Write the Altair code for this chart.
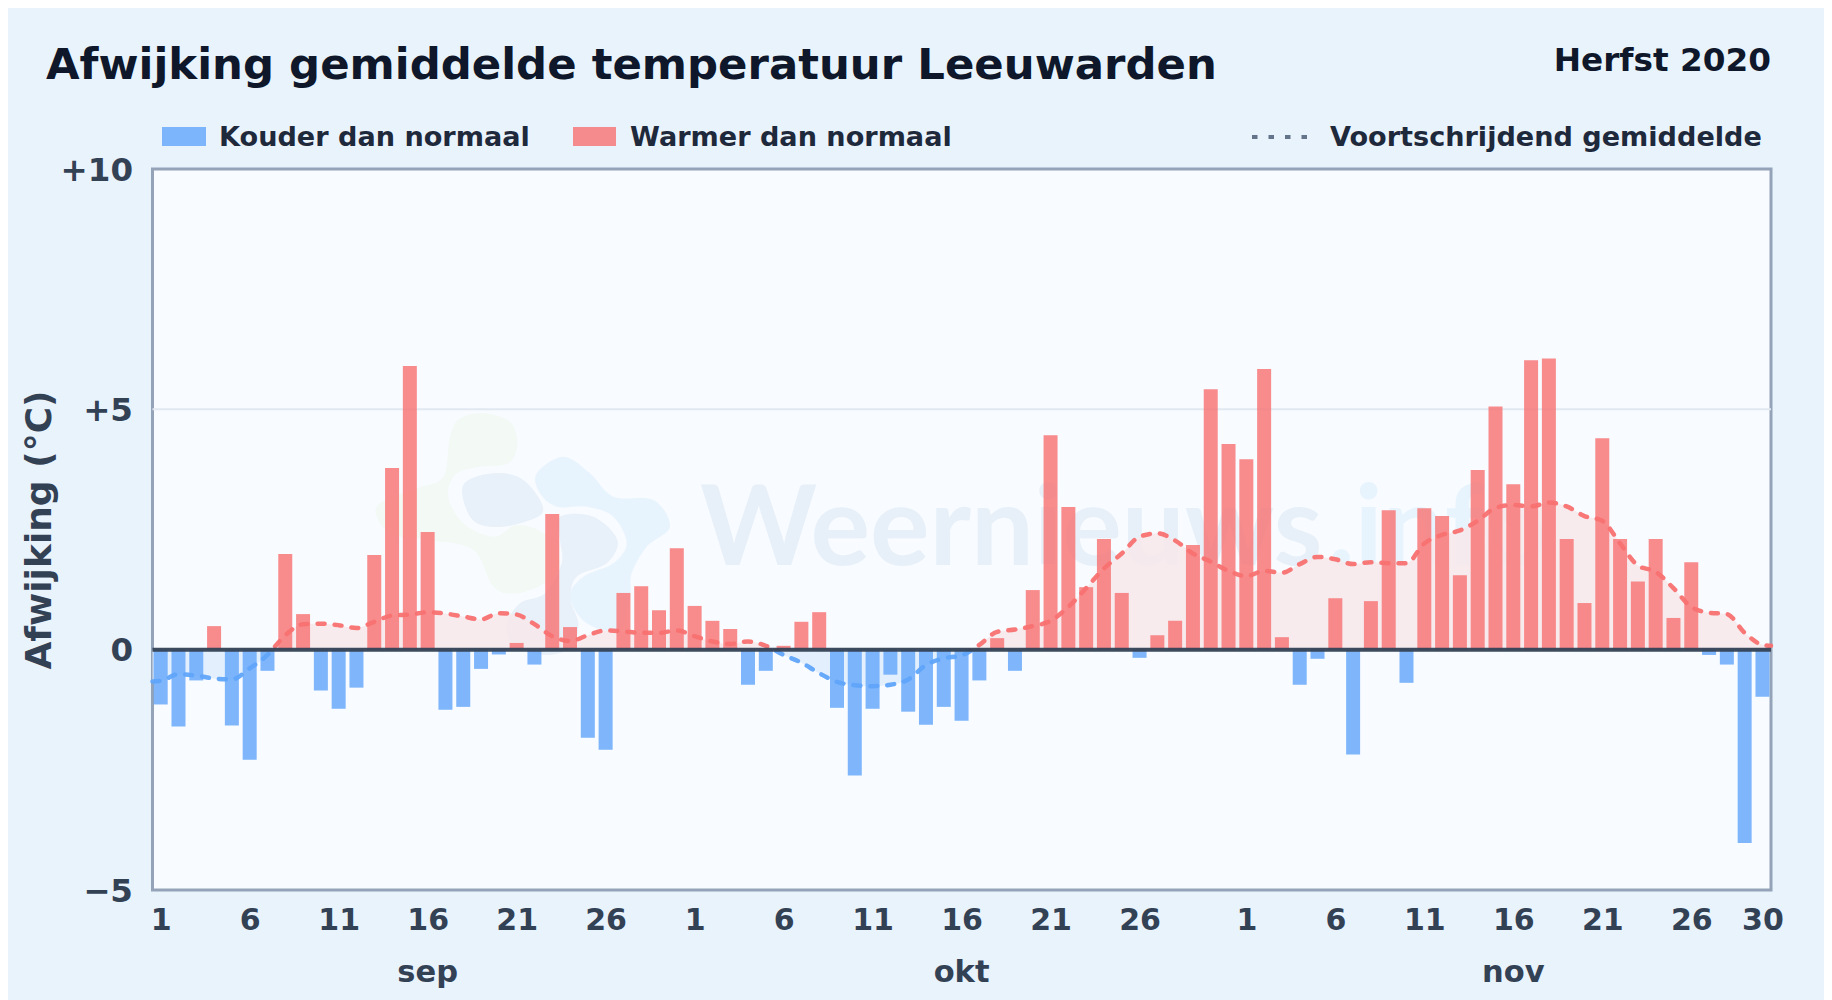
import altair as alt
import pandas as pd

# ---------- data ----------
deviation = [
    -1.14, -1.60, -0.64, 0.49, -1.58, -2.29, -0.44, 1.99, 0.74, -0.85,
    -1.23, -0.79, 1.97, 3.78, 5.90, 2.45, -1.25, -1.19, -0.40, -0.10,
    0.14, -0.31, 2.82, 0.47, -1.83, -2.08, 1.18, 1.32, 0.82, 2.11,
    0.91, 0.60, 0.43, -0.73, -0.44, 0.08, 0.58, 0.78, -1.21, -2.62,
    -1.23, -0.52, -1.29, -1.56, -1.19, -1.48, -0.64, 0.24, -0.44, 1.24,
    4.46, 2.97, 1.30, 2.30, 1.18, -0.17, 0.30, 0.60, 2.18, 5.42, 4.28,
    3.96, 5.84, 0.26, -0.73, -0.19, 1.07, -2.18, 1.01, 2.90, -0.69,
    2.94, 2.78, 1.55, 3.74, 5.06, 3.44, 6.02, 6.06, 2.30, 0.97,
    4.40, 2.30, 1.42, 2.30, 0.66, 1.82, -0.11, -0.31, -4.02, -0.98,
]
running_mean = [
    -0.65, -0.51, -0.54, -0.60, -0.62, -0.39, -0.11, 0.30, 0.53, 0.54,
    0.51, 0.45, 0.58, 0.71, 0.73, 0.78, 0.75, 0.69, 0.63, 0.76,
    0.73, 0.53, 0.28, 0.18, 0.30, 0.40, 0.38, 0.35, 0.35, 0.40,
    0.28, 0.17, 0.12, 0.17, 0.08, -0.11, -0.27, -0.49, -0.67, -0.74,
    -0.76, -0.73, -0.62, -0.32, -0.18, -0.12, 0.10, 0.37, 0.42, 0.49,
    0.60, 0.89, 1.28, 1.69, 2.00, 2.35, 2.42, 2.27, 2.00, 1.83, 1.64,
    1.53, 1.64, 1.60, 1.78, 1.93, 1.88, 1.78, 1.82, 1.80, 1.80,
    2.21, 2.39, 2.48, 2.68, 2.95, 3.01, 2.98, 3.06, 2.98, 2.78,
    2.68, 2.21, 1.75, 1.62, 1.28, 0.89, 0.77, 0.74, 0.35, 0.10,
]
mean_start = -0.66
mean_end = 0.08
tick_index = [0, 5, 10, 15, 20, 25, 30, 35, 40, 45, 50, 55, 61, 66, 71, 76, 81, 86, 90]
tick_labels = ["1", "6", "11", "16", "21", "26", "1", "6", "11", "16", "21", "26",
               "1", "6", "11", "16", "21", "26", "30"]
month_names = ["sep", "okt", "nov"]
month_index = [15, 45, 76]
y_ticks = [-5, 0, 5, 10]

# ---------- frame (page margin is 8 px, so the canvas is 1816 x 992) ----------
M = 8
W, H = 1832, 1000
L, R, T, B = 152.5, 1771, 169, 890
PW, PH = R - L, B - T
def px(v): return v - L
def py(v): return v - T

BG = "#e9f3fc"
FONT = "DejaVu Sans"
RED, BLUE = "#f87171", "#60a5fa"

bars = pd.DataFrame({"idx": range(91), "value": deviation, "zero": 0})
mean_df = pd.DataFrame({
    "idx": [-0.46] + list(range(91)) + [90.48],
    "mean": [mean_start] + running_mean + [mean_end],
    "zero": 0,
})
months = pd.DataFrame({"idx": month_index, "name": month_names})

x_scale = alt.Scale(domain=[-0.46, 90.48], nice=False, zero=False, padding=0)
y_scale = alt.Scale(domain=[-5, 10], nice=False)

lookup = "{" + ",".join(f"'{i}':'{t}'" for i, t in zip(tick_index, tick_labels)) + "}"
x_axis = alt.Axis(values=tick_index, labelExpr=f"{lookup}[datum.value]", title=None, grid=False,
                  domain=False, ticks=False, labelFont=FONT, labelFontWeight="bold",
                  labelFontSize=30, labelColor="#334155", labelPadding=15,
                  labelOverlap=False, labelBound=False, labelFlush=False)
y_axis = alt.Axis(values=y_ticks,
                  labelExpr="datum.value > 0 ? '+' + datum.value : datum.value < 0 ? '\u2212' + abs(datum.value) : '0'",
                  title="Afwijking (\u00b0C)", titleFont=FONT, titleFontWeight="bold", titleFontSize=36,
                  titleColor="#334155", titleX=px(39), titleY=PH / 2, titleAngle=270, titleBaseline="middle",
                  grid=False, domain=False, ticks=False, labelFont=FONT, labelFontWeight="bold",
                  labelFontSize=32.5, labelColor="#334155", labelPadding=20, labelOffset=1, labelOverlap=False,
                  labelBound=False, labelFlush=False)
enc_x = alt.X("idx:Q", scale=x_scale, axis=x_axis)
def enc_y(field): return alt.Y(field, type="quantitative", scale=y_scale, axis=y_axis)


# ---------- logo watermark (decoration) ----------
def blob_mark(points, color):
    xs = [p[0] for p in points]; ys = [p[1] for p in points]
    cx, cy = (min(xs) + max(xs)) / 2, (min(ys) + max(ys)) / 2
    r = max(max(xs) - min(xs), max(ys) - min(ys)) / 2
    n = [((x - cx) / r, (y - cy) / r) for x, y in points]
    m = len(n)
    d = f"M{n[0][0]:.3f},{n[0][1]:.3f}"
    for i in range(m):
        p0, p1, p2, p3 = n[i - 1], n[i], n[(i + 1) % m], n[(i + 2) % m]
        c1 = (p1[0] + (p2[0] - p0[0]) / 6, p1[1] + (p2[1] - p0[1]) / 6)
        c2 = (p2[0] - (p3[0] - p1[0]) / 6, p2[1] - (p3[1] - p1[1]) / 6)
        d += f"C{c1[0]:.3f},{c1[1]:.3f},{c2[0]:.3f},{c2[1]:.3f},{p2[0]:.3f},{p2[1]:.3f}"
    d += "Z"
    sx, sy = 380 + cx / 3, 390 + cy / 3
    return alt.Chart().mark_point(shape=d, filled=True, fill=color, opacity=1, strokeWidth=0,
                                  size=(2 * r / 3) ** 2).encode(x=alt.value(px(sx)), y=alt.value(py(sy)))


green = blob_mark([(310, 70), (390, 95), (412, 160), (385, 220), (290, 232), (225, 255), (205, 320), (250, 400),
                   (340, 440), (410, 405), (490, 430), (540, 510), (500, 575), (410, 610), (340, 590),
                   (280, 480), (150, 450), (30, 430), (-10, 350), (110, 295), (190, 260), (210, 140), (240, 85)],
                  "#f3f9f4")
grey1 = blob_mark([(250, 285), (340, 250), (430, 270), (490, 360), (420, 400), (330, 410), (270, 380)], "#e8f0f9")
sky = blob_mark([(470, 250), (550, 200), (630, 250), (700, 320), (820, 330), (870, 410), (800, 470), (755, 550),
                 (750, 620), (720, 720), (620, 700), (570, 620), (610, 560), (700, 520), (740, 460), (700, 380),
                 (620, 350), (530, 350), (480, 310)], "#e8f4fd")
grey2 = blob_mark([(540, 380), (640, 380), (712, 450), (680, 520), (590, 560), (572, 630), (595, 700), (575, 770),
                   (500, 795), (410, 770), (378, 710), (420, 640), (495, 610), (545, 520), (540, 450)], "#e8f0f9")

wm1 = alt.Chart().mark_text(text="Weernieuws", font="Lato", fontWeight="bold", fontSize=111.5, align="left",
                            baseline="alphabetic", color="#e7f0f8").encode(x=alt.value(px(700)), y=alt.value(py(565)))
wm2 = alt.Chart().mark_text(text=".info", font="Lato", fontWeight="bold", fontSize=111.5, align="left",
                            baseline="alphabetic", color="#e7f4fd").encode(x=alt.value(px(1328)), y=alt.value(py(565)))

# ---------- chart layers ----------
grid5 = alt.Chart(pd.DataFrame({"v": [5]})).mark_rule(color="#e2e8f0", strokeWidth=2).encode(y=enc_y("v"))

top, bottom = max(running_mean), min(running_mean)
split = top / (top - bottom)
line_grad = alt.LinearGradient(gradient="linear", x1=0, x2=0, y1=0, y2=1, stops=[
    alt.GradientStop(offset=0, color="#f87171"), alt.GradientStop(offset=split, color="#f87171"),
    alt.GradientStop(offset=split, color="#60a5fa"), alt.GradientStop(offset=1, color="#60a5fa")])
area_grad = alt.LinearGradient(gradient="linear", x1=0, x2=0, y1=0, y2=1, stops=[
    alt.GradientStop(offset=0, color="#f7e8eb"), alt.GradientStop(offset=split, color="#f7e8eb"),
    alt.GradientStop(offset=split, color="#dfedfd"), alt.GradientStop(offset=1, color="#dfedfd")])

area = alt.Chart(mean_df).mark_area(interpolate="monotone", color=area_grad, opacity=0.85).encode(
    x=enc_x, y=enc_y("mean"), y2="zero:Q")
line = alt.Chart(mean_df).mark_line(interpolate="monotone", color=line_grad, strokeWidth=4.5, strokeDash=[7, 10],
                                    strokeCap="round", opacity=0.95).encode(x=enc_x, y=enc_y("mean"))

bar = alt.Chart(bars).mark_bar(size=14, orient="vertical", opacity=0.8).encode(
    x=enc_x,
    y=enc_y("value"),
    y2="zero:Q",
    color=alt.condition(alt.datum.value > 0, alt.value(RED), alt.value(BLUE)),
)
zero_rule = alt.Chart(pd.DataFrame({"v": [0]})).mark_rule(color="#334155", strokeWidth=4, opacity=0.95).encode(
    y=enc_y("v"))

month_text = alt.Chart(months).mark_text(font=FONT, fontWeight="bold", fontSize=30.5, color="#334155",
                                         baseline="alphabetic", align="center").encode(
    x=enc_x, y=alt.value(py(982)), text="name:N")


def label(text, x, y, size, color, align="left"):
    return alt.Chart().mark_text(text=text, font=FONT, fontWeight="bold", fontSize=size, color=color,
                                 align=align, baseline="alphabetic").encode(x=alt.value(px(x)), y=alt.value(py(y)))


def swatch(x0, x1, color):
    return alt.Chart().mark_rect(fill=color, opacity=0.8).encode(
        x=alt.value(px(x0)), x2=alt.value(px(x1)), y=alt.value(py(127)), y2=alt.value(py(146)))


title = label("Afwijking gemiddelde temperatuur Leeuwarden", 46, 79, 43.4, "#0f172a")
season = label("Herfst 2020", 1771, 70.5, 32.7, "#0f172a", align="right")
leg1 = label("Kouder dan normaal", 219, 146, 27.1, "#1e293b")
leg2 = label("Warmer dan normaal", 630, 146, 27.1, "#1e293b")
leg3 = label("Voortschrijdend gemiddelde", 1330, 146, 27.1, "#1e293b")
dash = alt.Chart().mark_rule(color="#64748b", strokeWidth=4, strokeDash=[5.5, 11]).encode(
    x=alt.value(px(1252)), x2=alt.value(px(1308)), y=alt.value(py(137)))

chart = alt.layer(
    green, sky, grey1, grey2, wm1, wm2, grid5, area, bar, line, zero_rule, month_text,
    title, season, swatch(162, 206, BLUE), swatch(573, 616, RED), leg1, leg2, dash, leg3,
).properties(
    width=PW, height=PH, background=BG,
    padding={"left": L - M, "right": W - M - M - (R - M), "top": T - M, "bottom": H - B},
    autosize=alt.AutoSizeParams(type="none", contains="content"),
).configure_view(fill="#f8fbff", stroke="#94a3b8", strokeWidth=3)

chart.save("out.html", embed_options={"renderer": "svg", "actions": False})
